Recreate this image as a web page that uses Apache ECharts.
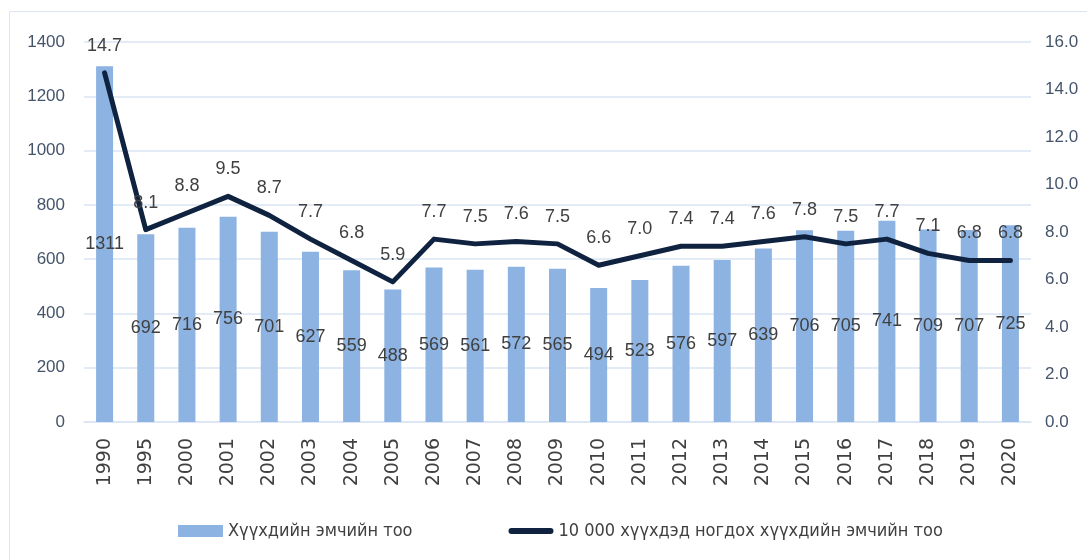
<!DOCTYPE html>
<html>
<head>
<meta charset="utf-8">
<script src="https://cdn.jsdelivr.net/npm/echarts@6/dist/echarts.min.js"></script>
<style>
  html, body { margin: 0; padding: 0; background: #fff; }
  #main { width: 1087px; height: 560px; }
</style>
</head>
<body>
<div id="main"></div>
<script>
// years
var years = ['1990', '1995', '2000', '2001', '2002', '2003', '2004', '2005', '2006', '2007', '2008', '2009',
    '2010', '2011', '2012', '2013', '2014', '2015', '2016', '2017', '2018', '2019', '2020'];
// Хүүхдийн эмчийн тоо
var doctors = [1311, 692, 716, 756, 701, 627, 559, 488, 569, 561, 572, 565,
    494, 523, 576, 597, 639, 706, 705, 741, 709, 707, 725];
// 10 000 хүүхдэд ногдох
var perTenThousand = [14.7, 8.1, 8.8, 9.5, 8.7, 7.7, 6.8, 5.9, 7.7, 7.5, 7.6, 7.5,
    6.6, 7.0, 7.4, 7.4, 7.6, 7.8, 7.5, 7.7, 7.1, 6.8, 6.8];

var sansFont = '"Liberation Sans", Arial, sans-serif';
var narrowFont = '"Liberation Sans Narrow", "DejaVu Sans Condensed", "Liberation Sans", sans-serif';
var axisColor = '#44546a';
var labelColor = '#404040';
var gridColor = '#dae5f4';

var myChart = echarts.init(document.getElementById('main'));
myChart.setOption({
    animation: false,
    textStyle: { fontFamily: sansFont },
    graphic: [{
        type: 'rect',
        shape: { x: 9.5, y: 11.5, width: 1200, height: 700 },
        style: { fill: 'none', stroke: gridColor, lineWidth: 1 },
        silent: true
    }],
    grid: { left: 84, right: 56, top: 42, bottom: 138 },
    legend: {
        left: 173,
        top: 517,
        itemGap: 96,
        itemWidth: 45,
        itemHeight: 12,
        textStyle: { fontSize: 18, color: labelColor, fontFamily: narrowFont },
        data: [
            { name: 'Хүүхдийн эмчийн тоо', icon: 'rect' },
            {
                name: '10 000 хүүхдэд ногдох хүүхдийн эмчийн тоо',
                icon: 'path://M3,0 L42,0 A3,3 0 0 1 42,6 L3,6 A3,3 0 0 1 3,0 Z'
            }
        ]
    },
    xAxis: {
        type: 'category',
        data: years,
        axisLine: { lineStyle: { color: gridColor, width: 1.5 } },
        axisTick: { show: false },
        axisLabel: { rotate: 90, color: labelColor, fontSize: 19, margin: 16, fontFamily: '"DejaVu Sans", sans-serif' }
    },
    yAxis: [{
        type: 'value',
        min: 0,
        max: 1400,
        interval: 200,
        axisLine: { show: false },
        axisTick: { show: false },
        splitLine: { lineStyle: { color: gridColor, width: 1.5 } },
        axisLabel: {
            color: axisColor, fontSize: 17, margin: 19,
            formatter: function (v) { return String(v); }
        }
    }, {
        type: 'value',
        min: 0,
        max: 16,
        interval: 2,
        axisLine: { show: false },
        axisTick: { show: false },
        splitLine: { show: false },
        axisLabel: {
            color: axisColor, fontSize: 17, margin: 14,
            formatter: function (v) { return v.toFixed(1); }
        }
    }],
    series: [{
        name: 'Хүүхдийн эмчийн тоо',
        type: 'bar',
        data: doctors,
        barWidth: 17,
        itemStyle: { color: '#8db3e2' },
        label: {
            show: true,
            position: 'inside',
            color: labelColor,
            fontSize: 18
        }
    }, {
        name: '10 000 хүүхдэд ногдох хүүхдийн эмчийн тоо',
        type: 'line',
        yAxisIndex: 1,
        data: perTenThousand,
        symbol: 'circle',
        symbolSize: 0,
        lineStyle: { color: '#0f2340', width: 5, cap: 'round', join: 'round' },
        itemStyle: { color: '#0f2340' },
        label: {
            show: true,
            position: 'top',
            distance: 18,
            color: labelColor,
            fontSize: 18,
            formatter: function (p) { return p.value.toFixed(1); }
        },
        z: 5
    }]
});
</script>
</body>
</html>
